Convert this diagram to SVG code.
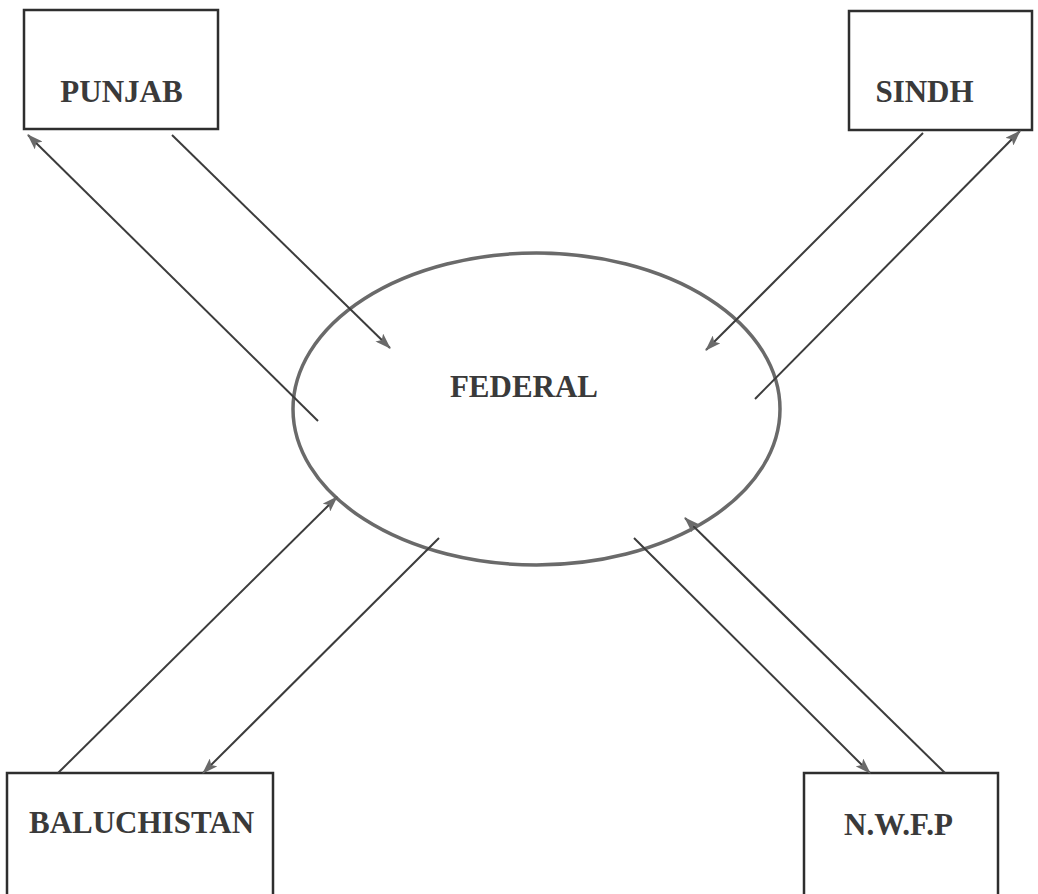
<svg xmlns="http://www.w3.org/2000/svg" width="1038" height="894" viewBox="0 0 1038 894">
  <style>
    .box { fill: #ffffff; stroke: #2e2e2e; stroke-width: 2.5; }
    .hub { fill: #ffffff; stroke: #6a6a6a; stroke-width: 3.5; }
    .label { font-family: "Liberation Serif", "Times New Roman", serif; font-weight: bold; font-size: 31px; fill: #3a3a3a; text-anchor: middle; }
    .link { stroke: #3c3c3c; stroke-width: 2; fill: none; marker-end: url(#head); }
  </style>
  <defs>
    <marker id="head" viewBox="0 0 16 11" refX="15" refY="5.5" markerWidth="16" markerHeight="11" markerUnits="userSpaceOnUse" orient="auto">
      <path d="M0,0 L16,5.5 L0,11 L3.5,5.5 Z" fill="#6a6a6a"/>
    </marker>
  </defs>
  <rect width="1038" height="894" fill="#ffffff"/>

  <g id="federal">
    <ellipse class="hub" cx="536.5" cy="409" rx="243.5" ry="156"/>
    <text class="label" x="524" y="397">FEDERAL</text>
  </g>

  <g id="punjab">
    <rect class="box" x="24" y="10" width="194" height="119"/>
    <text class="label" x="121.5" y="102">PUNJAB</text>
  </g>

  <g id="sindh">
    <rect class="box" x="849" y="11" width="183" height="119"/>
    <text class="label" x="924.5" y="102">SINDH</text>
  </g>

  <g id="baluchistan">
    <rect class="box" x="7" y="773" width="266" height="130"/>
    <text class="label" x="141.5" y="833">BALUCHISTAN</text>
  </g>

  <g id="nwfp">
    <rect class="box" x="804" y="773" width="194" height="130"/>
    <text class="label" x="898.5" y="835">N.W.F.P</text>
  </g>

  <g id="connectors">
    <line class="link" x1="318" y1="421" x2="28" y2="135"/>
    <line class="link" x1="172" y1="135" x2="390" y2="348"/>
    <line class="link" x1="923" y1="133" x2="706" y2="350"/>
    <line class="link" x1="755" y1="399" x2="1020" y2="131"/>
    <line class="link" x1="58" y1="773" x2="337" y2="497"/>
    <line class="link" x1="439" y1="538" x2="203" y2="773"/>
    <line class="link" x1="634" y1="538" x2="870" y2="773"/>
    <line class="link" x1="945" y1="773" x2="685" y2="518"/>
  </g>
</svg>
